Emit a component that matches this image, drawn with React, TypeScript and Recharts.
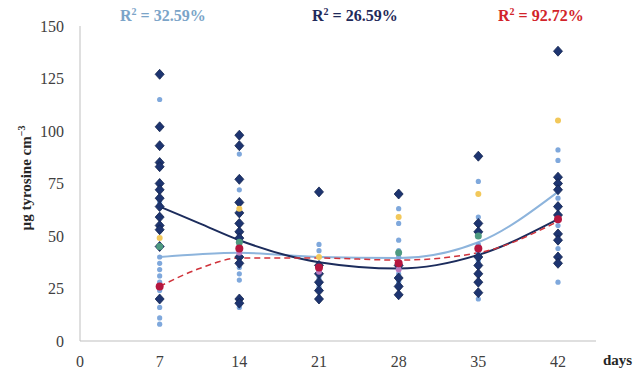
import {
  ComposedChart,
  Scatter,
  Line,
  XAxis,
  YAxis,
} from "recharts";

// [day, µg tyrosine cm-3]
const navyPoints: [number, number][] = [
  [7, 127], [7, 102], [7, 93], [7, 85], [7, 83], [7, 75], [7, 72], [7, 68], [7, 64], [7, 59], [7, 55], [7, 53], [7, 45], [7, 20],
  [14, 98], [14, 93], [14, 77], [14, 66], [14, 61], [14, 56], [14, 52], [14, 49], [14, 40], [14, 37], [14, 20], [14, 18],
  [21, 71], [21, 36], [21, 32], [21, 28], [21, 24], [21, 20],
  [28, 70], [28, 36], [28, 30], [28, 26], [28, 22],
  [35, 88], [35, 56], [35, 52], [35, 40], [35, 36], [35, 32], [35, 28], [35, 23],
  [42, 138], [42, 78], [42, 75], [42, 72], [42, 64], [42, 60], [42, 51], [42, 48], [42, 40], [42, 37],
];

const lightPoints: [number, number][] = [
  [7, 115], [7, 66], [7, 40], [7, 37], [7, 34], [7, 31], [7, 28], [7, 24], [7, 16], [7, 11], [7, 8],
  [14, 89], [14, 72], [14, 46], [14, 35], [14, 32], [14, 29], [14, 16],
  [21, 46], [21, 43], [21, 33], [21, 30], [21, 26],
  [28, 63], [28, 56], [28, 48], [28, 43], [28, 40], [28, 32], [28, 28],
  [35, 76], [35, 59], [35, 46], [35, 42], [35, 38], [35, 20],
  [42, 91], [42, 86], [42, 68], [42, 55], [42, 44], [42, 28],
];

const yellowPoints: [number, number][] = [[7, 49], [14, 63], [21, 40], [28, 59], [35, 70], [42, 105]];
const greenPoints: [number, number][] = [[7, 45], [14, 47], [28, 42], [35, 50]];
const pinkPoints: [number, number][] = [[14, 42], [21, 33], [28, 34]];
const redPoints: [number, number][] = [[7, 26], [14, 44], [21, 35], [28, 37], [35, 44], [42, 58]];

// polynomial trend curves, read at each sampling day
const trendDays = [7, 10.5, 14, 21, 28, 35, 42];
const navyTrend = [64, 56, 48, 37.5, 34.5, 41, 58];
const lightTrend = [40, 41.3, 42, 40, 39.5, 47, 71];
const redTrend = [26, 34.5, 39.5, 39.5, 38.5, 42, 57];

const dayTicks = [0, 7, 14, 21, 28, 35, 42];
const valueTicks = [0, 25, 50, 75, 100, 125, 150];

const toXY = (pts: [number, number][]) => pts.map(([x, y]) => ({ x, y }));
const toTrend = (vals: number[]) => trendDays.map((x, i) => ({ x, y: vals[i] }));

const serif = "'Liberation Serif', 'Times New Roman', serif";

const Diamond = (props: any) => {
  const { cx, cy } = props;
  return (
    <polygon
      points={`${cx},${cy - 5} ${cx + 4.5},${cy} ${cx},${cy + 5} ${cx - 4.5},${cy}`}
      fill="#1d3470"
      stroke="#13254f"
      strokeWidth={0.8}
    />
  );
};

const dot = (fill: string, r: number) => (props: any) => (
  <circle cx={props.cx} cy={props.cy} r={r} fill={fill} />
);

export default function App() {
  const tick = { fontFamily: serif, fontSize: 16, fill: "#404040" };
  return (
    <div style={{ position: "fixed", left: 0, top: 0, width: 639, height: 385, background: "#fff" }}>
      <ComposedChart width={639} height={385} margin={{ top: 26, right: 43, left: 0, bottom: 0 }}>
        <XAxis
          type="number"
          dataKey="x"
          domain={[0, 45.34]}
          ticks={dayTicks}
          tick={tick}
          tickLine={false}
          tickMargin={9}
          height={44}
          stroke="#bfbfbf"
          allowDataOverflow
        />
        <YAxis
          type="number"
          dataKey="y"
          domain={[0, 150]}
          ticks={valueTicks}
          tick={tick}
          tickLine={false}
          tickMargin={10}
          width={80}
          stroke="#bfbfbf"
        />
        <Scatter data={toXY(lightPoints)} dataKey="y" shape={dot("#7fa8dc", 2.6)} isAnimationActive={false} />
        <Scatter data={toXY(navyPoints)} dataKey="y" shape={Diamond} isAnimationActive={false} />
        <Scatter data={toXY(yellowPoints)} dataKey="y" shape={dot("#f2c85a", 3)} isAnimationActive={false} />
        <Scatter data={toXY(pinkPoints)} dataKey="y" shape={dot("#b77cc0", 3)} isAnimationActive={false} />
        <Scatter data={toXY(greenPoints)} dataKey="y" shape={dot("#4e9a80", 3.5)} isAnimationActive={false} />
        <Scatter data={toXY(redPoints)} dataKey="y" shape={dot("#b5163f", 4)} isAnimationActive={false} />
        <Line data={toTrend(lightTrend)} dataKey="y" type="monotone" stroke="#8db4dc" strokeWidth={2} dot={false} isAnimationActive={false} />
        <Line data={toTrend(navyTrend)} dataKey="y" type="monotone" stroke="#1c2c5c" strokeWidth={2} dot={false} isAnimationActive={false} />
        <Line data={toTrend(redTrend)} dataKey="y" type="monotone" stroke="#d0333b" strokeWidth={1.5} strokeDasharray="6 4" dot={false} isAnimationActive={false} />
      </ComposedChart>

      <div style={{ position: "absolute", left: 120, top: 6, fontFamily: serif, fontWeight: 700, fontSize: 16, color: "#7ba4c8", whiteSpace: "nowrap" }}>
        R<sup style={{ fontSize: 10 }}>2</sup> = 32.59%
      </div>
      <div style={{ position: "absolute", left: 312, top: 6, fontFamily: serif, fontWeight: 700, fontSize: 16, color: "#1f2a5a", whiteSpace: "nowrap" }}>
        R<sup style={{ fontSize: 10 }}>2</sup> = 26.59%
      </div>
      <div style={{ position: "absolute", left: 498, top: 6, fontFamily: serif, fontWeight: 700, fontSize: 16, color: "#d2232a", whiteSpace: "nowrap" }}>
        R<sup style={{ fontSize: 10 }}>2</sup> = 92.72%
      </div>
      <div style={{ position: "absolute", left: 603, top: 352, fontFamily: serif, fontWeight: 700, fontSize: 15, color: "#262626" }}>
        days
      </div>
      <div
        style={{
          position: "absolute",
          left: 25,
          top: 178,
          transform: "translate(-50%, -50%) rotate(-90deg)",
          fontFamily: serif,
          fontWeight: 700,
          fontSize: 15,
          color: "#262626",
          whiteSpace: "nowrap",
        }}
      >
        µg tyrosine cm<sup style={{ fontSize: 10 }}>−3</sup>
      </div>
    </div>
  );
}
